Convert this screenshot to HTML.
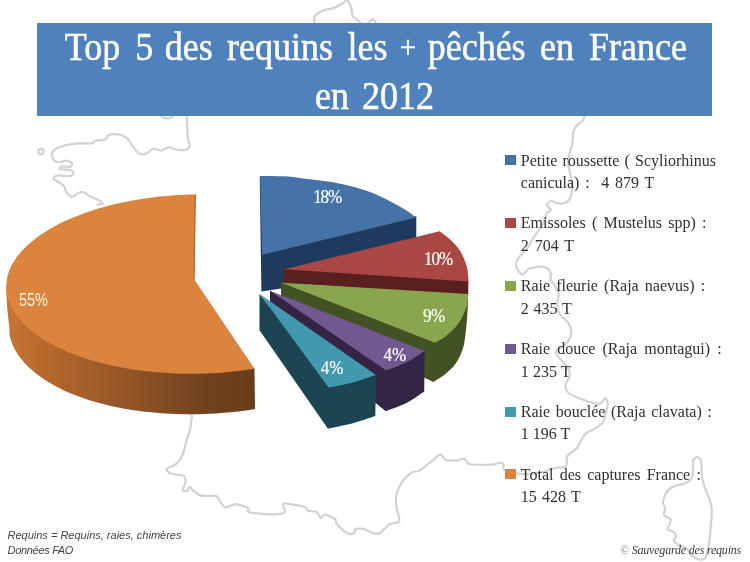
<!DOCTYPE html>
<html lang="fr">
<head>
<meta charset="utf-8">
<title>Top 5 des requins les + pêchés en France en 2012</title>
<style>
html,body{margin:0;padding:0;background:#fff;}
body{width:750px;height:562px;position:relative;overflow:hidden;font-family:"Liberation Serif",serif;}
.art{position:absolute;left:0;top:0;}
.banner{position:absolute;left:37px;top:23px;width:675px;height:93px;background:#4f81bd;}
.t{position:absolute;white-space:nowrap;color:#fff;line-height:1;transform-origin:0 0;}
.title{font-size:36px;width:750px;height:36px;transform:scale(1,1.1);-webkit-text-stroke:0.5px #fff;}
.title span{position:absolute;top:0;}
.pct{font-size:17px;transform:scale(1,1.1);-webkit-text-stroke:0.2px #fff;}
.leg{position:absolute;left:505.2px;width:10.8px;height:10px;}
.lt{position:absolute;left:520.8px;white-space:nowrap;color:#303030;font-size:16px;line-height:1;transform-origin:0 0;}
.foot{position:absolute;white-space:nowrap;font-family:"Liberation Sans",sans-serif;font-style:italic;font-size:11px;color:#444;line-height:1;transform-origin:0 0;}
.copy{position:absolute;white-space:nowrap;font-style:italic;font-size:12px;letter-spacing:-0.2px;color:#3a3a3a;line-height:1;transform-origin:0 0;}
</style>
</head>
<body>
<svg class="art" width="750" height="562" viewBox="0 0 750 562">
<defs><linearGradient id="ow" x1="6" y1="0" x2="256" y2="0" gradientUnits="userSpaceOnUse"><stop offset="0" stop-color="#c67534"/><stop offset="0.25" stop-color="#ad632b"/><stop offset="0.55" stop-color="#8b5125"/><stop offset="0.8" stop-color="#71421e"/><stop offset="1" stop-color="#683c1b"/></linearGradient></defs>
<g fill="none" stroke="#d2d2d2" stroke-width="2.2" stroke-linejoin="round" stroke-linecap="round">
<path d="M186.9,115.9 C187.0,118.7 187.3,132.7 187.7,136.7 C188.1,140.7 189.9,144.2 189.6,146.0 C189.3,147.8 187.3,149.5 185.5,150.0 C183.7,150.5 178.5,149.8 176.2,149.5 C173.9,149.2 170.2,147.3 168.2,147.4 C166.2,147.5 163.5,150.4 161.5,150.6 C159.5,150.8 155.6,148.2 153.5,148.7 C151.4,149.2 147.5,153.4 145.5,154.0 C143.5,154.6 140.4,154.2 138.8,153.3 C137.2,152.4 135.1,149.4 133.5,147.4 C131.9,145.4 128.6,139.7 126.8,138.0 C125.0,136.3 122.4,135.1 120.1,134.6 C117.8,134.1 111.4,134.0 109.4,134.6 C107.4,135.2 107.3,138.6 105.4,139.4 C103.5,140.2 96.6,140.2 94.8,140.7 C93.0,141.2 94.2,143.0 92.1,143.4 C90.0,143.8 82.3,143.2 78.7,143.4 C75.1,143.6 68.4,144.5 65.4,145.2 C62.4,145.9 57.8,147.5 56.0,148.7 C54.2,149.9 52.2,152.4 52.0,154.0 C51.8,155.6 53.1,159.6 54.2,160.7 C55.3,161.8 58.3,162.0 60.0,162.0 C61.7,162.0 65.1,160.5 66.7,160.7 C68.3,160.9 71.5,162.6 72.0,163.4 C72.5,164.2 72.1,166.2 70.7,166.6 C69.3,167.0 62.7,166.2 61.4,166.6 C60.1,167.0 59.4,168.8 60.6,169.3 C61.8,169.8 69.0,169.4 70.7,170.0 C72.4,170.6 73.6,172.7 73.4,173.5 C73.2,174.3 71.5,175.9 69.4,176.2 C67.3,176.5 59.5,175.0 57.4,175.4 C55.3,175.8 53.2,178.0 53.4,178.9 C53.6,179.8 57.3,181.1 58.7,182.1 C60.1,183.1 62.9,184.7 64.0,186.1 C65.1,187.5 65.6,191.4 66.7,192.8 C67.8,194.2 70.4,196.8 72.0,196.8 C73.6,196.8 77.1,193.4 78.7,192.8 C80.3,192.2 82.4,191.7 84.0,192.2 C85.6,192.7 89.0,195.8 90.8,196.8 C92.6,197.8 95.8,198.5 97.4,199.4 C99.0,200.3 102.8,202.7 102.8,203.4 C102.8,204.1 98.1,204.6 97.4,204.8"/>
<path d="M314.1,24.0 C314.2,22.9 314.1,17.8 315.2,16.0 C316.3,14.2 320.3,11.8 322.7,10.7 C325.1,9.6 330.7,9.0 333.3,8.1 C335.9,7.2 340.0,5.0 341.9,3.8 C343.8,2.6 346.9,-0.6 347.8,-1.0 C348.7,-1.4 347.8,-0.3 348.3,1.0 C348.8,2.3 350.9,6.5 351.5,8.5 C352.1,10.5 351.6,14.4 352.5,16.0 C353.4,17.6 356.6,19.2 357.9,20.3 C359.2,21.4 361.5,23.5 362.1,24.0"/>
<path d="M368.5,23.0 C369.1,22.5 371.8,19.2 372.8,19.2 C373.8,19.2 375.6,22.5 376.0,23.0"/>
<path d="M160.5,115.0 C161.0,115.4 162.7,117.6 164.0,118.0 C165.3,118.4 168.7,118.4 170.0,118.0 C171.3,117.6 173.0,115.4 173.5,115.0"/>
<path d="M584.7,115.9 C584.4,116.5 583.8,119.5 582.8,120.7 C581.8,121.9 578.7,123.3 577.5,124.7 C576.3,126.1 574.2,128.7 573.5,131.4 C572.8,134.1 572.6,141.7 572.1,144.7 C571.6,147.7 569.9,151.5 569.4,154.0 C568.9,156.5 567.9,160.4 568.1,163.4 C568.3,166.4 570.3,173.2 570.8,176.8 C571.3,180.4 572.3,187.1 572.1,190.1 C571.9,193.1 570.6,197.6 569.4,199.4 C568.2,201.2 564.6,203.0 562.8,203.5 C561.0,204.0 557.7,203.3 556.1,202.9 C554.5,202.5 552.0,200.5 550.8,200.8 C549.6,201.1 546.8,203.6 546.8,204.8 C546.8,206.0 550.8,209.0 550.8,210.1 C550.8,211.2 547.5,211.5 546.8,212.8 C546.1,214.1 545.9,217.9 545.4,219.5 C544.9,221.1 543.6,223.4 542.7,224.8 C541.8,226.2 539.9,228.4 538.7,230.2 C537.5,232.0 535.0,235.7 533.4,238.2 C531.8,240.7 528.5,246.5 526.7,248.9 C524.9,251.3 521.5,254.2 520.1,256.0 C518.7,257.8 516.5,260.9 516.1,262.7 C515.7,264.5 516.5,267.8 517.4,269.4 C518.3,271.0 521.4,274.7 522.8,274.7 C524.2,274.7 526.0,270.5 528.1,269.4 C530.2,268.3 536.3,266.9 538.8,266.7 C541.3,266.5 545.2,267.1 546.8,268.0 C548.4,268.9 550.3,271.8 550.8,273.4 C551.3,275.0 550.3,278.4 550.8,280.0 C551.3,281.6 553.7,283.6 554.8,285.4 C555.9,287.2 558.4,291.3 558.8,293.4 C559.2,295.5 557.7,299.3 557.5,301.4 C557.3,303.5 557.0,307.4 557.5,309.4 C558.0,311.4 560.1,314.3 561.5,316.1 C562.9,317.9 566.9,320.8 568.2,322.8 C569.5,324.8 571.2,328.7 571.4,330.8 C571.6,332.9 570.5,336.8 569.5,338.8 C568.5,340.8 565.8,344.1 564.2,345.5 C562.6,346.9 558.6,348.4 557.5,349.5 C556.4,350.6 555.7,352.1 556.2,353.5 C556.7,354.9 559.9,358.2 561.5,360.2 C563.1,362.2 567.1,366.0 568.2,368.2 C569.3,370.4 569.9,374.3 569.5,376.5 C569.1,378.7 565.7,382.5 565.5,384.7 C565.3,386.9 566.4,390.9 568.2,392.7 C570.0,394.5 576.1,396.8 578.9,398.0 C581.7,399.2 586.7,401.3 589.5,402.0 C592.3,402.7 598.1,403.9 600.2,403.4 C602.3,402.9 604.6,397.8 605.6,398.0 C606.6,398.2 607.7,402.7 607.7,404.7 C607.7,406.7 606.2,410.4 605.6,412.7 C605.0,415.0 604.3,420.0 602.9,422.1 C601.5,424.2 597.0,427.3 594.9,428.7 C592.8,430.1 588.7,431.3 586.9,432.7 C585.1,434.1 582.8,437.4 581.5,439.4 C580.2,441.4 578.6,446.1 577.0,448.0 C575.4,449.9 571.0,452.4 569.6,453.6 C568.2,454.8 567.3,455.6 566.8,457.3 C566.3,459.0 567.5,464.8 565.9,466.3 C564.3,467.8 557.9,467.4 554.7,468.2 C551.5,469.0 545.3,471.5 541.6,472.3 C537.9,473.1 530.2,474.0 526.7,474.1 C523.2,474.2 518.5,473.8 515.5,473.2 C512.5,472.6 505.6,470.7 504.0,469.5 C502.4,468.3 504.0,464.8 503.3,463.9 C502.6,463.0 499.9,462.9 498.7,463.0 C497.5,463.1 496.1,464.2 494.0,464.4 C491.9,464.6 486.7,464.9 483.3,464.8 C479.9,464.7 471.2,464.8 468.7,464.0 C466.2,463.2 466.3,459.2 464.7,458.7 C463.1,458.2 459.2,460.3 456.7,460.5 C454.2,460.7 448.2,460.8 446.0,460.0 C443.8,459.2 442.2,454.3 440.1,454.7 C438.0,455.1 432.8,460.6 430.0,462.7 C427.2,464.8 421.6,469.5 419.3,470.7 C417.0,471.9 414.5,471.1 412.7,472.0 C410.9,472.9 407.8,475.3 406.0,477.3 C404.2,479.3 400.6,484.0 399.3,486.7 C398.0,489.4 396.2,494.5 395.9,497.3 C395.6,500.1 396.2,504.8 396.7,508.0 C397.2,511.2 400.2,519.2 399.3,521.3 C398.4,523.4 392.7,522.4 390.0,524.0 C387.3,525.6 381.8,532.2 379.3,533.3 C376.8,534.4 373.4,533.1 371.3,532.5 C369.2,531.9 365.4,529.2 363.3,528.8 C361.2,528.4 356.5,528.7 355.3,529.3 C354.1,529.9 355.1,532.8 354.0,533.3 C352.9,533.8 349.6,534.5 347.3,533.3 C345.0,532.1 338.3,525.9 336.7,524.0 C335.1,522.1 336.9,520.4 335.3,519.2 C333.7,518.0 326.6,514.8 324.7,514.7 C322.8,514.6 321.8,518.5 320.7,518.1 C319.6,517.7 318.4,513.0 316.7,512.0 C315.0,511.0 309.9,511.5 308.2,510.8 C306.5,510.1 306.7,507.7 304.2,506.8 C301.7,505.9 292.3,504.5 289.5,504.1 C286.7,503.7 283.6,503.0 282.9,504.1 C282.2,505.2 286.2,511.3 284.2,512.7 C282.2,514.1 272.9,514.4 268.2,514.3 C263.5,514.2 251.6,512.9 248.9,512.1 C246.2,511.3 249.8,509.2 248.1,508.1 C246.4,507.0 239.1,504.2 236.1,504.1 C233.1,504.0 227.5,507.6 225.4,507.3 C223.3,507.0 221.3,503.0 220.1,501.5 C218.9,500.0 218.6,496.9 216.1,496.1 C213.6,495.3 204.4,496.3 201.4,495.6 C198.4,494.9 195.0,492.0 193.4,490.8 C191.8,489.6 190.2,486.8 189.4,486.8 C188.6,486.8 188.4,490.3 187.5,490.8 C186.6,491.3 183.0,491.4 182.7,490.3 C182.4,489.2 185.2,484.7 185.4,482.8 C185.6,480.9 186.0,477.4 184.0,476.1 C182.0,474.8 173.0,474.4 170.7,473.4 C168.4,472.4 166.0,470.1 166.7,468.9 C167.4,467.7 173.9,466.0 176.0,464.1 C178.1,462.2 181.3,457.9 182.7,454.7 C184.1,451.5 185.6,443.7 186.7,440.0 C187.8,436.3 190.0,430.7 190.7,426.7 C191.4,422.7 191.9,412.2 192.1,410.0"/>
<path d="M695.5,457.4 C694.7,457.9 693.2,460.0 692.9,461.7 C692.6,463.4 693.5,468.1 693.3,470.4 C693.1,472.7 692.3,477.4 691.2,479.1 C690.1,480.8 686.7,482.5 684.7,483.4 C682.7,484.3 678.0,484.9 676.0,485.6 C674.0,486.3 671.0,487.5 669.5,488.8 C668.0,490.1 666.0,493.4 665.1,495.3 C664.2,497.2 662.9,501.2 662.9,502.9 C662.9,504.6 665.0,506.8 665.1,508.4 C665.2,510.0 663.3,513.5 664.0,514.9 C664.7,516.3 669.8,517.9 670.5,519.2 C671.2,520.5 669.9,523.4 669.5,524.7 C669.1,526.0 666.7,528.0 667.3,529.0 C667.9,530.0 672.6,531.2 673.8,532.2 C675.0,533.2 676.0,535.4 676.0,536.6 C676.0,537.8 673.4,539.7 673.8,540.9 C674.2,542.1 677.5,544.3 679.2,545.3 C680.9,546.3 685.2,547.2 686.8,548.5 C688.4,549.8 689.6,553.5 691.2,555.0 C692.8,556.5 696.9,559.0 698.8,559.4 C700.7,559.8 704.2,559.5 705.3,558.3 C706.4,557.1 706.8,553.2 707.4,550.7 C708.0,548.2 709.2,543.0 709.6,539.8 C710.0,536.6 710.4,530.3 710.7,526.8 C711.0,523.3 711.8,517.0 711.8,513.8 C711.8,510.6 711.3,505.5 710.7,502.9 C710.1,500.3 708.3,496.6 707.4,494.3 C706.5,492.0 704.9,487.9 704.2,485.6 C703.5,483.3 702.3,479.2 702.0,476.9 C701.7,474.6 701.7,470.4 701.6,468.2 C701.5,466.0 701.3,462.0 700.9,460.6 C700.5,459.2 699.5,458.2 698.8,457.8 C698.1,457.4 696.3,456.9 695.5,457.4Z"/>
<circle cx="40.8" cy="151.4" r="2.6"/>
</g>
<path d="M259.7,176.2 L275.0,200.0 L416.3,216.5 L416.3,268.0 L261.4,291.6Z" fill="#1f3a5f"/>
<path d="M262.2,254.7 L260.1,175.9 C263.9,176.0 275.8,175.9 283.0,176.3 C290.2,176.7 295.6,177.5 303.4,178.4 C311.2,179.3 322.2,180.5 330.0,181.8 C337.8,183.1 343.3,184.3 350.0,186.0 C356.7,187.7 363.3,189.6 370.0,192.1 C376.7,194.6 384.2,198.3 390.0,201.2 C395.8,204.1 400.4,206.9 404.8,209.6 C409.2,212.3 414.2,216.2 416.1,217.5 Z" fill="#4572a7"/>
<path d="M283.8,268.8 L468.4,280.5 L468.2,295.2 L283.8,283.0Z" fill="#5a1f1f"/>
<path d="M284.3,269.3 L439.7,231.3 C441.5,232.8 447.3,236.8 450.7,240.0 C454.1,243.2 457.4,246.6 460.0,250.7 C462.6,254.8 464.8,260.3 466.2,264.5 C467.6,268.7 467.8,273.1 468.2,276.0 C468.6,278.9 468.4,280.7 468.4,281.6 Z" fill="#aa4643"/>
<path d="M468.2,293 L465,304 L461,315 L454,326 L444,336 L434,341.5 L432.8,382.3 C434.8,381.0 441.0,377.6 444.8,374.5 C448.6,371.4 452.5,368.0 455.4,364.0 C458.3,360.0 460.6,354.7 462.1,350.7 C463.7,346.7 464.0,344.3 464.7,340.0 C465.4,335.7 466.0,330.0 466.5,325.0 C467.0,320.0 467.3,315.2 467.6,310.0 C467.9,304.8 468.1,296.7 468.2,294.0 Z" fill="#435225"/>
<path d="M281.0,282.0 L437.0,342.0 L436.0,380.0 L433.0,381.8 L281.0,312.0Z" fill="#435225"/>
<path d="M281.8,282.7 L468.2,294.0 C468.0,295.8 467.8,301.4 466.9,305.0 C466.0,308.6 464.6,312.1 462.8,315.7 C461.0,319.3 459.0,322.9 456.1,326.4 C453.2,329.8 448.9,333.7 445.4,336.4 C441.9,339.1 436.7,341.6 435.0,342.7 Z" fill="#89a54e"/>
<path d="M424.7,350.2 L406,360.5 L386,369.3 L385.5,411.1 C389.1,409.7 400.6,406.0 407.0,402.7 C413.4,399.4 421.3,393.4 424.2,391.5 Z" fill="#352545"/>
<path d="M270.0,290.5 L388.5,370.0 L388.0,410.0 L385.5,411.1 L270.0,318.0Z" fill="#352545"/>
<path d="M270.5,291 L424.7,351.0 C421.8,352.8 413.4,358.8 407.0,362.0 C400.6,365.2 389.7,369.1 386.2,370.5 Z" fill="#71588f"/>
<path d="M376,374.3 L353,381 L328.6,386.5 L327.8,428.6 C331.8,427.8 344.1,425.6 352.0,423.5 C359.9,421.4 371.4,417.2 375.3,416.0 Z" fill="#1c4452"/>
<path d="M259.5,293.7 L330.5,387.0 L330.0,428.0 L327.8,428.6 L259.5,330.2Z" fill="#1c4452"/>
<path d="M260,294.2 L376.0,375.1 C372.2,376.3 360.9,380.4 353.0,382.5 C345.1,384.6 332.7,386.8 328.6,387.6 Z" fill="#4198af"/>
<path d="M6.3,286.0 L6.3,292.0 L6.8,302.0 L7.5,311.0 L8.5,320.0 L9.4,328.0 L9.6,335.4 L10.3,338.1 L11.1,340.8 L12.1,343.5 L13.2,346.2 L14.5,348.8 L16.0,351.4 L17.6,354.0 L19.3,356.6 L21.3,359.1 L23.3,361.6 L25.5,364.0 L27.9,366.4 L30.4,368.8 L33.0,371.1 L35.8,373.4 L38.8,375.6 L41.8,377.8 L45.0,380.0 L48.3,382.1 L51.8,384.1 L55.4,386.1 L59.1,388.0 L62.9,389.9 L66.8,391.7 L70.9,393.4 L75.0,395.1 L79.3,396.7 L83.7,398.3 L88.1,399.8 L92.7,401.2 L97.4,402.5 L102.1,403.8 L107.0,405.0 L111.9,406.2 L116.9,407.2 L122.0,408.2 L127.1,409.2 L132.3,410.0 L137.6,410.8 L142.9,411.5 L148.3,412.1 L153.8,412.6 L159.2,413.1 L164.8,413.5 L170.3,413.8 L175.9,414.1 L181.5,414.2 L187.2,414.3 L192.8,414.3 L198.5,414.2 L204.2,414.0 L209.9,413.8 L215.6,413.5 L221.3,413.1 L226.9,412.6 L232.6,412.1 L238.3,411.5 L243.9,410.8 L249.5,410.0 L255.0,409.0 L254.5,368.5 L250.0,366.0 L192.0,300.0Z" fill="url(#ow)"/>
<path d="M194.3,279.5 L195.5,194.5 L188.2,194.6 L180.9,194.9 L173.7,195.3 L166.5,195.9 L159.3,196.6 L152.2,197.5 L145.1,198.4 L138.1,199.5 L131.2,200.7 L124.5,202.1 L117.8,203.5 L111.2,205.1 L104.7,206.8 L98.4,208.6 L92.3,210.5 L86.2,212.5 L80.4,214.7 L74.7,216.9 L69.2,219.2 L63.9,221.6 L58.7,224.1 L53.8,226.7 L49.1,229.4 L44.6,232.2 L40.3,235.0 L36.3,237.9 L32.5,240.9 L28.9,243.9 L25.6,247.0 L22.5,250.2 L19.7,253.4 L17.1,256.6 L14.8,259.9 L12.8,263.2 L11.0,266.6 L9.5,270.0 L8.3,273.4 L7.4,276.8 L6.7,280.2 L6.3,283.6 L6.2,287.1 L6.4,290.5 L6.8,293.9 L7.5,297.3 L8.5,300.7 L9.8,304.0 L11.4,307.4 L13.2,310.7 L15.3,313.9 L17.6,317.1 L20.3,320.3 L23.1,323.4 L26.3,326.5 L29.6,329.5 L33.3,332.4 L37.1,335.2 L41.2,338.0 L45.6,340.7 L50.1,343.3 L54.9,345.9 L59.8,348.3 L65.0,350.7 L70.4,352.9 L75.9,355.1 L81.6,357.1 L87.5,359.0 L93.6,360.9 L99.8,362.6 L106.1,364.2 L112.6,365.7 L119.2,367.0 L125.9,368.3 L132.7,369.4 L139.6,370.4 L146.6,371.3 L153.7,372.0 L160.8,372.6 L168.0,373.1 L175.2,373.5 L182.5,373.7 L189.8,373.8 L197.1,373.7 L204.4,373.6 L211.6,373.3 L218.9,372.9 L226.1,372.3 L233.3,371.6 L240.4,370.8 L247.5,369.8 L254.5,368.8Z" fill="#db843d"/>
<path d="M195.9,194.6 L194.6,279.8 L193.4,279.2 L194.7,194.6 Z" fill="#a8652f"/>
</svg>
<div class="banner"></div>
<div class="t title" id="t1" style="left:0;top:26.9px;"><span style="left:64.8px">Top</span> <span style="left:135.2px">5</span> <span style="left:164.7px">des</span> <span style="left:227.0px">requins</span> <span style="left:347.5px">les</span> <span style="left:399.8px;top:4.1px;font-size:29px;">+</span> <span style="left:427.7px">pêchés</span> <span style="left:540.0px">en</span> <span style="left:589.0px">France</span></div>
<div class="t title" id="t2" style="left:0;top:76.1px;"><span style="left:315.0px">en</span> <span style="left:361.9px">2012</span></div>

<div class="t pct" id="p18" style="left:313.2px;top:188.1px;letter-spacing:-1.1px;">18%</div>
<div class="t pct" id="p10" style="left:424.0px;top:249.9px;letter-spacing:-1.0px;">10%</div>
<div class="t pct" id="p9" style="left:423.0px;top:307.1px;letter-spacing:-0.5px;">9%</div>
<div class="t pct" id="p4a" style="left:383.5px;top:345.5px;letter-spacing:0.0px;">4%</div>
<div class="t pct" id="p4b" style="left:320.7px;top:358.5px;letter-spacing:0.0px;">4%</div>
<div class="t pct" id="p55" style="left:19.2px;top:292.3px;font-family:'Liberation Sans',sans-serif;font-size:16px;letter-spacing:0;transform:scale(0.9,1.1);-webkit-text-stroke:0;color:#fdf3e6;">55%</div>

<div class="leg" style="top:155.0px;background:#4572a7;"></div>
<div class="lt" id="l1a" style="top:152.5px;word-spacing:1.20px;">Petite roussette ( Scyliorhinus</div>
<div class="lt" id="l1b" style="top:175.0px;word-spacing:1.80px;">canicula) :&nbsp; 4 879 T</div>
<div class="leg" style="top:218.3px;background:#aa4643;"></div>
<div class="lt" id="l2a" style="top:215.3px;word-spacing:2.20px;">Emissoles ( Mustelus spp) :</div>
<div class="lt" id="l2b" style="top:237.8px;word-spacing:1.90px;">2 704 T</div>
<div class="leg" style="top:280.8px;background:#89a54e;"></div>
<div class="lt" id="l3a" style="top:278.2px;word-spacing:2.10px;">Raie fleurie (Raja naevus) :</div>
<div class="lt" id="l3b" style="top:300.7px;word-spacing:0.75px;">2 435 T</div>
<div class="leg" style="top:344.0px;background:#71588f;"></div>
<div class="lt" id="l4a" style="top:341.1px;word-spacing:3.10px;">Raie douce (Raja montagui) :</div>
<div class="lt" id="l4b" style="top:363.6px;word-spacing:0.30px;">1 235 T</div>
<div class="leg" style="top:406.8px;background:#4198af;"></div>
<div class="lt" id="l5a" style="top:403.9px;word-spacing:1.55px;">Raie bouclée (Raja clavata) :</div>
<div class="lt" id="l5b" style="top:426.4px;word-spacing:0.00px;">1 196 T</div>
<div class="leg" style="top:469.4px;background:#db843d;"></div>
<div class="lt" id="l6a" style="top:466.8px;word-spacing:2.20px;">Total des captures France :</div>
<div class="lt" id="l6b" style="top:489.3px;word-spacing:1.25px;">15 428 T</div>

<div class="foot" id="f1" style="left:7.5px;top:530.2px;">Requins = Requins, raies, chimères</div>
<div class="foot" id="f2" style="left:7.5px;top:544.8px;letter-spacing:-0.3px;">Données FAO</div>
<div class="copy" id="c1" style="left:620px;top:544px;"><span style="color:#888">©</span> Sauvegarde des requins</div>
</body>
</html>
